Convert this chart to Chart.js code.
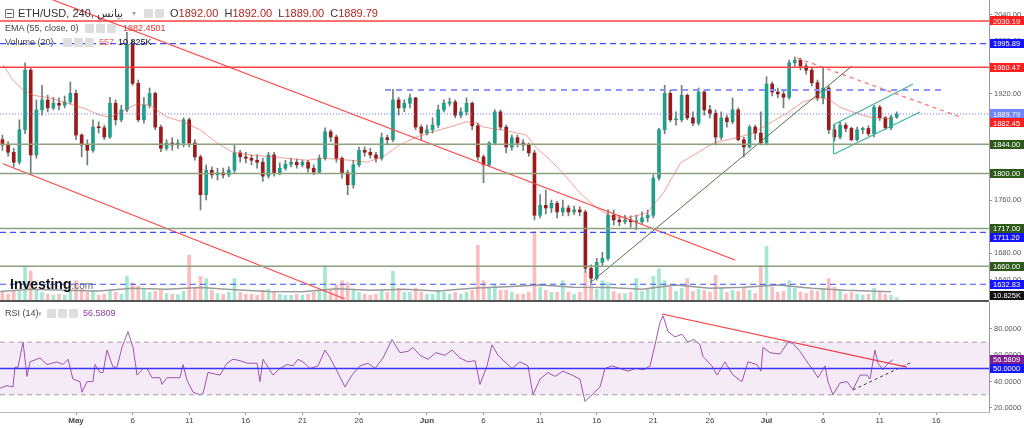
<!DOCTYPE html>
<html>
<head>
<meta charset="utf-8">
<script src="https://cdn.jsdelivr.net/npm/chart.js@4.4.0/dist/chart.umd.min.js"></script>
<style>
body { margin: 0; background: #fff; }
#wrap { position: relative; width: 1024px; height: 428px; overflow: hidden; font-family: Arial, "Liberation Sans", sans-serif; }
canvas { position: absolute; left: 0; }
.t { position: absolute; white-space: nowrap; line-height: 1; }
.ic { position: absolute; width: 9px; height: 9px; background: #dedede; border-radius: 1px; }
.r { color: #b3261e; }
</style>
</head>
<body>
<div id="wrap">
  <canvas id="main" width="1024" height="300" style="top:0"></canvas>
  <div style="position:absolute;left:0;top:300px;width:989px;height:2px;background:#555"></div>
  <canvas id="rsi" width="1024" height="126" style="top:302px"></canvas>

  <div class="ic" style="left:5px;top:9px;width:7px;height:7px;background:#fff;border:1px solid #777"></div>
  <div style="position:absolute;left:7px;top:13px;width:5px;height:1px;background:#555"></div>
  <div class="t" style="left:18px;top:8px;font-size:11px;color:#333">ETH/USD, 240, بيانس</div>
  <div class="t" style="left:132px;top:10px;font-size:8px;color:#aaa">▾</div>
  <div class="ic" style="left:144px;top:9px"></div>
  <div class="ic" style="left:155px;top:9px"></div>
  <div class="t" style="left:170px;top:8px;font-size:11px;color:#333">O<span class="r">1892.00</span>&nbsp; H<span class="r">1892.00</span>&nbsp; L<span class="r">1889.00</span>&nbsp; C<span class="r">1889.79</span></div>

  <div class="t" style="left:5px;top:24px;font-size:9px;color:#444">EMA (55, close, 0)</div>
  <div class="t" style="left:73px;top:25px;font-size:7px;color:#aaa">▾</div>
  <div class="ic" style="left:85px;top:24px"></div>
  <div class="ic" style="left:96px;top:24px"></div>
  <div class="ic" style="left:107px;top:24px"></div>
  <div class="t" style="left:123px;top:24px;font-size:9px;color:#f03030">1882.4501</div>

  <div class="t" style="left:5px;top:38px;font-size:9px;color:#444">Volume (20)</div>
  <div class="t" style="left:51px;top:39px;font-size:7px;color:#aaa">▾</div>
  <div class="ic" style="left:63px;top:38px"></div>
  <div class="ic" style="left:74px;top:38px"></div>
  <div class="ic" style="left:85px;top:38px"></div>
  <div class="t" style="left:99px;top:38px;font-size:9px;color:#f06060">557</div>
  <div class="t" style="left:118px;top:38px;font-size:9px;color:#111">10.825K</div>

  <div class="t" style="left:10px;top:277px;font-size:14px;font-weight:bold;color:#111">Investing<span style="font-size:10px;font-weight:normal;color:#666">.com</span></div>

  <div class="t" style="left:5px;top:309px;font-size:9px;color:#444">RSI (14)</div>
  <div class="t" style="left:38px;top:310px;font-size:7px;color:#aaa">▾</div>
  <div class="ic" style="left:47px;top:309px"></div>
  <div class="ic" style="left:58px;top:309px"></div>
  <div class="ic" style="left:69px;top:309px"></div>
  <div class="t" style="left:83px;top:309px;font-size:9px;color:#8e3fa0">56.5809</div>
</div>
<script>
// days counted from 1 May; one candle every 12 hours
const tickDays = [0, 5, 10, 15, 20, 25, 31, 36, 41, 46, 51, 56, 61, 66, 71, 76];
const tickLabels = ['May', '6', '11', '16', '21', '26', 'Jun', '6', '11', '16', '21', '26', 'Jul', '6', '11', '16'];
const monthLabels = ['May', 'Jun', 'Jul'];
const candleStart = -6.5;
const candleStep = 0.5;

// [open, high, low, close]
const candles = [
  [1851,1858,1835,1843],[1843,1848,1826,1832],[1832,1838,1810,1817],[1817,1881,1814,1866],
  [1866,1967,1860,1956],[1956,1960,1798,1828],[1828,1911,1823,1896],[1896,1933,1888,1911],
  [1911,1918,1893,1899],[1899,1915,1896,1906],[1906,1914,1896,1903],[1903,1917,1899,1908],
  [1908,1938,1905,1921],[1921,1926,1851,1858],[1858,1860,1825,1843],[1843,1851,1813,1835],
  [1835,1881,1832,1870],[1870,1878,1861,1869],[1869,1873,1851,1855],[1855,1915,1853,1906],
  [1906,1911,1873,1881],[1881,1903,1878,1896],[1896,2013,1893,1994],[1994,2001,1933,1936],
  [1936,1941,1878,1881],[1881,1915,1876,1903],[1903,1929,1899,1921],[1921,1923,1866,1870],
  [1870,1873,1833,1838],[1838,1851,1835,1846],[1846,1854,1835,1843],[1843,1851,1838,1846],
  [1846,1884,1840,1881],[1881,1884,1840,1846],[1846,1851,1820,1825],[1825,1828,1745,1768],
  [1768,1813,1760,1805],[1805,1810,1793,1798],[1798,1808,1790,1801],[1801,1808,1793,1798],
  [1798,1810,1795,1805],[1805,1843,1801,1831],[1831,1835,1817,1825],[1825,1832,1816,1823],
  [1823,1828,1813,1820],[1820,1828,1808,1817],[1817,1823,1788,1796],[1796,1832,1793,1828],
  [1828,1832,1796,1801],[1801,1816,1798,1808],[1808,1820,1805,1814],[1814,1823,1810,1817],
  [1817,1822,1808,1813],[1813,1820,1810,1817],[1817,1820,1802,1808],[1808,1813,1798,1802],
  [1802,1828,1801,1823],[1823,1869,1820,1863],[1863,1866,1848,1855],[1855,1858,1817,1823],
  [1823,1825,1793,1801],[1801,1805,1768,1783],[1783,1820,1778,1813],[1813,1840,1810,1835],
  [1835,1840,1826,1832],[1832,1838,1823,1828],[1828,1832,1817,1823],[1823,1861,1820,1854],
  [1854,1858,1843,1851],[1851,1927,1848,1911],[1911,1915,1888,1899],[1899,1911,1893,1906],
  [1906,1920,1899,1914],[1914,1915,1866,1870],[1870,1873,1851,1861],[1861,1873,1858,1866],
  [1866,1884,1861,1873],[1873,1903,1869,1896],[1896,1911,1893,1906],[1906,1914,1902,1908],
  [1908,1911,1884,1888],[1888,1899,1884,1893],[1893,1914,1888,1906],[1906,1908,1866,1872],
  [1872,1876,1820,1825],[1825,1828,1786,1813],[1813,1848,1810,1846],[1846,1896,1843,1893],
  [1893,1896,1866,1870],[1870,1873,1831,1840],[1840,1858,1835,1854],[1854,1858,1840,1846],
  [1846,1851,1835,1843],[1843,1846,1826,1831],[1831,1835,1730,1737],[1737,1768,1733,1752],
  [1752,1775,1739,1748],[1748,1760,1741,1755],[1755,1758,1733,1742],[1742,1760,1736,1748],
  [1748,1752,1736,1742],[1742,1751,1738,1745],[1745,1750,1736,1742],[1742,1745,1651,1657],
  [1657,1662,1635,1642],[1642,1672,1639,1666],[1666,1681,1660,1672],[1672,1745,1669,1737],
  [1737,1745,1722,1730],[1730,1737,1721,1727],[1727,1737,1724,1730],[1730,1736,1719,1727],
  [1727,1737,1715,1727],[1727,1742,1724,1733],[1733,1745,1727,1737],[1737,1798,1733,1793],
  [1793,1868,1790,1866],[1866,1933,1860,1921],[1921,1926,1878,1881],[1881,1893,1873,1881],
  [1881,1933,1878,1918],[1918,1920,1881,1884],[1884,1893,1872,1876],[1876,1929,1873,1923],
  [1923,1926,1888,1896],[1896,1903,1884,1891],[1891,1896,1843,1855],[1855,1893,1851,1884],
  [1884,1888,1870,1878],[1878,1914,1875,1896],[1896,1899,1849,1851],[1851,1855,1825,1840],
  [1840,1873,1838,1870],[1870,1873,1851,1861],[1861,1893,1843,1846],[1846,1946,1843,1935],
  [1935,1938,1917,1923],[1923,1929,1914,1920],[1920,1926,1899,1915],[1915,1971,1912,1967],
  [1967,1976,1962,1971],[1971,1974,1956,1962],[1962,1966,1950,1956],[1956,1959,1932,1937],
  [1937,1941,1910,1914],[1914,1959,1905,1929],[1929,1932,1860,1866],[1866,1873,1849,1855],
  [1855,1878,1852,1873],[1873,1876,1863,1868],[1868,1870,1849,1851],[1851,1870,1849,1866],
  [1866,1870,1860,1868],[1868,1872,1857,1860],[1860,1903,1855,1900],[1900,1903,1880,1884],
  [1884,1886,1866,1869],[1869,1888,1866,1885],[1885,1893,1883,1889.79]
];

// volume in K per candle
const volumes = [
  36,27,45,40,160,135,50,36,27,22,27,22,45,90,50,36,45,22,27,45,
  36,27,110,80,65,50,36,40,45,30,27,25,40,210,60,110,100,45,30,27,
  36,100,36,27,27,22,45,50,36,27,22,22,27,22,27,36,45,160,45,70,
  90,80,50,36,27,22,27,45,36,135,55,36,36,55,36,27,27,45,36,27,
  36,27,36,45,255,90,60,72,45,45,36,27,27,36,320,60,45,36,36,90,
  36,27,36,130,70,50,90,80,40,30,30,36,100,40,50,110,145,90,60,40,
  55,100,40,50,45,36,115,55,36,45,40,55,45,30,160,250,60,36,40,90,
  55,36,30,45,40,50,100,60,45,27,36,27,22,27,55,36,27,22,11
];
const volumeAvg = [
  [-6.7,40],[-4,50],[-1,45],[2,42],[5,55],[8,50],[11,58],[14,48],[17,40],[20,38],
  [23,52],[26,45],[29,50],[32,42],[35,55],[38,62],[41,70],[44,60],[47,58],[50,50],
  [53,70],[56,55],[59,60],[62,70],[65,55],[68,45],[72,38]
];

// EMA(55): [day, price]
const emaPoints = [
  [-6.45,1964],[-5.57,1941],[-4.68,1926],[-3.8,1918],[-2.3,1914],[-0.8,1906],[0.62,1899],
  [2.12,1888],[3.0,1885],[3.89,1891],[4.77,1900],[5.39,1905],[6.54,1903],[8.04,1885],
  [9.45,1878],[10.95,1866],[12.46,1846],[13.87,1832],[15.37,1828],[17.4,1825],[20.4,1820],
  [21.8,1823],[24.2,1820],[25.7,1817],[27.1,1825],[28.6,1843],[30.1,1855],[31.5,1863],
  [33.0,1870],[34.5,1878],[35.4,1876],[36.0,1870],[37.5,1866],[39.0,1861],[39.8,1858],
  [40.7,1838],[41.6,1825],[43.0,1801],[44.5,1771],[46.0,1748],[47.4,1734],[48.9,1734],
  [50.4,1740],[51.9,1771],[53.4,1816],[54.9,1831],[56.3,1846],[58.4,1854],[59.8,1861],
  [61.3,1876],[62.8,1891],[64.2,1908],[65.7,1915],[66.6,1911],[67.5,1900],[68.6,1893],
  [70.1,1885],[72.2,1882.45]
];

// RSI(14): [day, value]
const rsiPoints = [
  [-6.71,35],[-6.10,37],[-5.57,36],[-5.39,51],[-5.12,51],[-4.68,70],[-4.33,44],[-4.06,55],
  [-3.18,58],[-2.56,53],[-1.68,55],[-1.15,53],[-0.71,57],[-0.27,42],[0.35,40],[0.53,32],
  [0.97,40],[1.50,40],[1.68,53],[2.12,47],[2.39,47],[2.74,64],[3.27,51],[3.62,51],
  [4.06,66],[4.59,78],[5.04,66],[5.39,45],[5.92,50],[6.27,50],[6.71,43],[7.42,43],
  [7.60,38],[8.04,43],[8.75,43],[9.19,43],[9.45,53],[9.81,41],[10.34,32],[10.95,30],
  [11.22,31],[11.66,47],[12.72,45],[13.34,54],[13.87,57],[14.49,56],[15.11,54],[15.99,54],
  [16.25,40],[16.52,57],[17.40,45],[18.02,50],[18.64,53],[19.17,52],[19.61,57],[20.05,55],
  [20.67,50],[21.38,52],[22.00,64],[22.44,58],[23.06,48],[23.76,36],[24.38,45],[25.09,52],
  [25.80,54],[26.41,50],[27.12,58],[27.92,72],[28.62,62],[29.33,63],[29.77,66],[30.39,60],
  [31.10,57],[31.80,62],[32.60,60],[33.22,64],[33.92,58],[34.63,55],[35.25,56],[35.69,38],
  [36.31,52],[36.75,68],[37.28,60],[37.90,55],[38.52,50],[39.22,55],[39.93,52],[40.37,30],
  [40.99,42],[41.70,47],[42.31,44],[43.02,48],[43.82,45],[44.52,42],[44.96,25],[45.58,30],
  [46.29,36],[46.73,50],[47.35,52],[48.06,50],[48.76,48],[49.47,50],[50.18,49],[50.71,52],
  [51.15,68],[51.59,85],[51.86,90],[52.30,78],[52.92,74],[53.53,76],[54.06,70],[54.59,72],
  [55.12,68],[55.39,59],[56.18,52],[56.63,45],[57.33,55],[58.04,45],[58.83,40],[59.36,55],
  [60.16,53],[60.51,48],[60.69,66],[61.31,62],[62.19,61],[62.90,70],[63.34,69],[63.96,63],
  [64.58,55],[65.11,49],[65.55,43],[66.17,52],[66.43,40],[66.87,30],[67.49,39],[68.11,40],
  [68.64,34],[69.26,45],[69.88,45],[70.14,42],[70.58,64],[70.85,54],[71.29,49],[71.73,54],
  [72.17,56.58]
];

const priceTicks = [1640, 1680, 1720, 1760, 1800, 1840, 1880, 1920, 1960, 2000, 2040];
const rsiTicks = [20, 40, 60, 80];
const redLevels = [2030.19, 1960.47];
const blueLevels = [1995.89, 1711.20, 1632.83];
const greenLevels = [1844.00, 1800.00, 1717.00, 1660.00];
const lastPrice = 1889.79;
const emaLast = 1882.45;
const lastVolumeK = 10.825;
const rsiLast = 56.5809;

// drawn lines: [day, price] end points
const descUpper = [[-2.03, 2061.8], [58.22, 1669.5]];
const descLower = [[-6.45, 1814.7], [23.76, 1610.7]];
const supportLine = [[45.41, 1634.8], [68.55, 1962.2]];
const peakDash = [[63.7, 1974.3], [78.36, 1883.7]];
const channelUpper = [[66.87, 1873.2], [73.94, 1935.0]];
const channelLower = [[66.98, 1829.4], [74.56, 1892.8]];
const channelEdge = [[66.92, 1873.2], [66.92, 1829.4]];
const shortResist = [[27.3, 1926], [76.5, 1926]];
const rsiResist = [[51.77, 91.4], [73.41, 51.1]];
const rsiSupport = [[68.64, 33.7], [73.67, 54.2]];

const xMin = -6.714, xMax = 80.654;
const days = candles.map((c, i) => candleStart + i * candleStep);
const isUp = i => candles[i] && candles[i][3] >= candles[i][0];
const pts = arr => arr.map(p => ({ x: p[0], y: p[1] }));
const hline = v => [{ x: xMin, y: v }, { x: xMax, y: v }];

function lineDs(data, color, width, dash, extra) {
  return Object.assign({
    type: 'line', data: data, borderColor: color, borderWidth: width,
    borderDash: dash || [], pointRadius: 0, fill: false, tension: 0, order: 0
  }, extra || {});
}

const levelLabels = {
  id: 'levelLabels',
  afterDraw(chart, args, opts) {
    const ctx = chart.ctx;
    const area = chart.chartArea;
    const h = 9;
    const items = (opts.items || []).map(it => {
      let y = chart.scales[it.scale].getPixelForValue(it.value);
      y = Math.min(Math.max(y, area.top + h / 2), area.bottom - h / 2);
      return Object.assign({}, it, { y: y });
    }).sort((a, b) => a.y - b.y);
    let prev = -100;
    ctx.save();
    ctx.font = '7.5px Arial';
    ctx.textBaseline = 'middle';
    for (const it of items) {
      if (it.y < prev + h) it.y = prev + h;
      prev = it.y;
      ctx.fillStyle = it.bg;
      ctx.fillRect(area.right + 1, Math.round(it.y - h / 2), chart.width - area.right - 1, h);
      ctx.fillStyle = '#fff';
      ctx.fillText(it.text, area.right + 4, it.y + 0.5);
    }
    ctx.restore();
  }
};

function noPad(s) { s.paddingTop = 0; s.paddingBottom = 0; s.paddingLeft = 0; s.paddingRight = 0; }

const mainSets = [
  lineDs(hline(redLevels[0]), '#ff4040', 1.5),
  lineDs(hline(redLevels[1]), '#ff4040', 1.5),
  ...blueLevels.map(v => lineDs(hline(v), '#3d50ff', 1.2, [6, 4])),
  ...greenLevels.map(v => lineDs(hline(v), '#8da07f', 1.5)),
  lineDs(hline(lastPrice), '#6375ff', 1, [1, 2]),
  lineDs(pts(shortResist), '#8f95ff', 1.8, [6, 5]),
  lineDs(pts(descUpper), '#ff4545', 1.2),
  lineDs(pts(descLower), '#ff4545', 1.2),
  lineDs(pts(supportLine), '#56714a', 1),
  lineDs(pts(peakDash), '#ff6b6b', 1.2, [4, 4]),
  lineDs(pts(channelUpper), '#3fb4a0', 1.2),
  lineDs(pts(channelLower), '#3fb4a0', 1.2),
  lineDs(pts(channelEdge), '#3fb4a0', 1.2),
  lineDs(pts(emaPoints), 'rgba(240,80,70,0.55)', 1, [], { order: 0.5 }),
  {
    type: 'bar', order: 1, grouped: false, barThickness: 3, minBarLength: 1,
    data: candles.map((c, i) => ({ x: days[i], y: [c[0], c[3]] })),
    backgroundColor: ctx => isUp(ctx.dataIndex) ? '#1f9e89' : '#9a1b1b'
  },
  {
    type: 'bar', order: 2, grouped: false, barThickness: 1,
    data: candles.map((c, i) => ({ x: days[i], y: [c[2], c[1]] })),
    backgroundColor: '#6f7f77'
  },
  lineDs(pts(volumeAvg), '#9a9a9a', 1.5, [], { yAxisID: 'yv', order: 2.5 }),
  {
    type: 'bar', order: 3, grouped: false, barThickness: 3, yAxisID: 'yv',
    data: volumes.map((v, i) => ({ x: days[i], y: v })),
    backgroundColor: ctx => isUp(ctx.dataIndex) ? 'rgba(60,200,150,0.45)' : 'rgba(245,110,110,0.45)'
  }
];

const mainLabels = [
  ...redLevels.map(v => ({ scale: 'y', value: v, text: v.toFixed(2), bg: '#ff1f1f' })),
  ...blueLevels.map(v => ({ scale: 'y', value: v, text: v.toFixed(2), bg: '#1414ff' })),
  ...greenLevels.map(v => ({ scale: 'y', value: v, text: v.toFixed(2), bg: '#2d5a1b' })),
  { scale: 'y', value: lastPrice, text: lastPrice.toFixed(2), bg: '#6f86ff' },
  { scale: 'y', value: emaLast, text: emaLast.toFixed(2), bg: '#ff1f1f' },
  { scale: 'yv', value: lastVolumeK, text: lastVolumeK.toFixed(3) + 'K', bg: '#111' }
];

new Chart(document.getElementById('main'), {
  type: 'bar',
  data: { datasets: mainSets },
  options: {
    responsive: false, animation: false, events: [],
    layout: { padding: 0 },
    plugins: { legend: { display: false }, tooltip: { enabled: false }, levelLabels: { items: mainLabels } },
    scales: {
      x: { type: 'linear', min: xMin, max: xMax, offset: false, display: false },
      y: {
        type: 'linear', position: 'right', min: 1609.1, max: 2061.8,
        afterBuildTicks: s => { s.ticks = priceTicks.map(v => ({ value: v })); },
        afterFit: s => { s.width = 35; noPad(s); },
        ticks: { callback: v => Number(v).toFixed(2), font: { size: 7.5, family: 'Arial' }, color: '#555', padding: 2 },
        grid: { drawOnChartArea: false, drawTicks: true, tickLength: 3, color: '#999' },
        border: { display: true, color: '#999' }
      },
      yv: { type: 'linear', axis: 'y', display: false, min: 0, max: 1400 }
    }
  },
  plugins: [levelLabels]
});

const rsiSets = [
  lineDs(hline(70), '#a0a0a0', 1, [5, 4], { fill: '+1', backgroundColor: 'rgba(150,60,170,0.1)' }),
  lineDs(hline(30), '#a0a0a0', 1, [5, 4]),
  lineDs(hline(50), '#3333ff', 1.5),
  lineDs(pts(rsiPoints), '#a255b5', 1),
  lineDs(pts(rsiResist), '#ff3b3b', 1.2),
  lineDs(pts(rsiSupport), '#333', 1, [3, 3])
];

new Chart(document.getElementById('rsi'), {
  type: 'line',
  data: { datasets: rsiSets },
  options: {
    responsive: false, animation: false, events: [],
    layout: { padding: 0 },
    plugins: {
      legend: { display: false }, tooltip: { enabled: false },
      levelLabels: { items: [
        { scale: 'y', value: rsiLast, text: rsiLast.toFixed(4), bg: '#7b1f8f' },
        { scale: 'y', value: 50, text: (50).toFixed(4), bg: '#1515ff' }
      ] }
    },
    scales: {
      x: {
        type: 'linear', min: xMin, max: xMax, offset: false,
        afterBuildTicks: s => { s.ticks = tickDays.map(v => ({ value: v })); },
        afterFit: s => { s.height = 16; noPad(s); },
        ticks: {
          autoSkip: false, maxRotation: 0, padding: 1, color: '#444',
          callback: (v, i) => tickLabels[i],
          font: ctx => ({ size: 8, family: 'Arial', weight: monthLabels.includes(tickLabels[ctx.index]) ? 'bold' : 'normal' })
        },
        grid: { drawOnChartArea: false, drawTicks: true, tickLength: 3, color: '#999' },
        border: { display: true, color: '#bbb' }
      },
      y: {
        type: 'linear', position: 'right', min: 16.96, max: 100.5,
        afterBuildTicks: s => { s.ticks = rsiTicks.map(v => ({ value: v })); },
        afterFit: s => { s.width = 35; noPad(s); },
        ticks: { callback: v => Number(v).toFixed(4), font: { size: 7.5, family: 'Arial' }, color: '#555', padding: 2 },
        grid: { drawOnChartArea: false, drawTicks: true, tickLength: 3, color: '#999' },
        border: { display: true, color: '#999' }
      }
    }
  },
  plugins: [levelLabels]
});
</script>
</body>
</html>
